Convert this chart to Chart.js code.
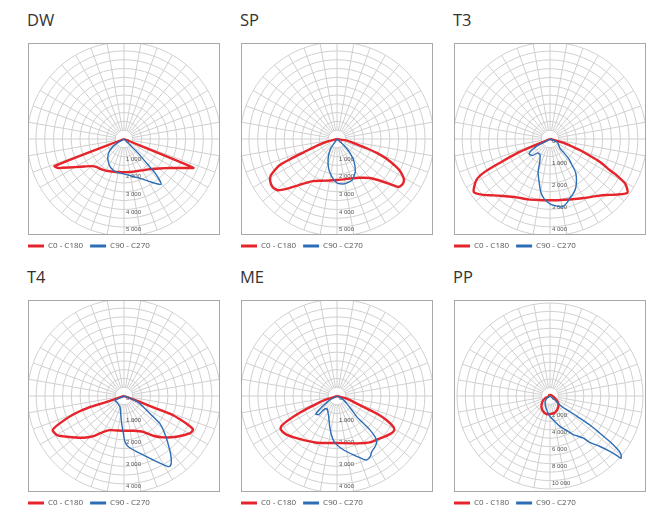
<!DOCTYPE html>
<html><head><meta charset="utf-8">
<script src="https://cdn.jsdelivr.net/npm/chart.js@4.4.0/dist/chart.umd.min.js"></script>
<style>
html,body{margin:0;padding:0;background:#fff;}
body{width:670px;height:523px;position:relative;overflow:hidden;font-family:'Open Sans',sans-serif;}
.title{position:absolute;font-size:16.5px;line-height:1;color:#333;white-space:nowrap;}
canvas{position:absolute;}
</style></head><body>
<script>
// ---- data: gamma angle (deg, 0 = nadir, + = right side) and intensity (cd) ----
const DW_RED_ANG = [-68.7,-66,-65,-60,-55,-50,-45,-40,-35,-30,-25,-20,-15,-10,-5,0,5,10,15,20,25,30,35,40,45,50,55,60,65,67.5];
const DW_RED_CD  = [4233,4069,3867,3193,2717,2396,2231,2183,2130,2070,2010,1968,1934,1899,1885,1878,1885,1897,1925,1949,1990,2060,2132,2245,2390,2600,2882,3286,3888,4264];
const DW_BLUE_ANG = [-58.7,-53,-45.6,-35.6,-24.7,-13,0,11.1,23.4,32.2,39.3,42.2,43,45,45];
const DW_BLUE_CD  = [507,939,1262,1548,1799,1927,1980,2143,2456,2887,3324,2712,1980,1115,450];

const SP_RED_ANG = [-75,-71.6,-68.2,-66.8,-65.4,-61.2,-57.6,-53.4,-49.3,-45,-40,-30,-20,-10,0,10,20,30,40,45,50,51.9,55,57.6,59.3,62.6,64.7,68.2,70.7,72.7,75,80.5];
const SP_RED_CD  = [580,1190,2020,2860,3610,4290,4490,4560,4460,3980,3430,2760,2520,2390,2330,2330,2380,2540,2890,3290,4020,4410,4520,4490,4410,4066,3740,3030,2390,1770,1170,570];
const SP_BLUE_ANG = [-33.7,-33.7,-24.2,-15.5,-7.4,0,6.3,10.5,19.8,28.8,36.6,43.5,48];
const SP_BLUE_CD  = [340,680,1235,1755,2180,2500,2570,2575,2495,2145,1635,1035,505];

const T3_RED_ANG = [-67.4,-66.8,-64.7,-63.2,-60.7,-55.2,-50,-45,-40,-30,-20,-10,0,10,20,30,40,45,50,55.3,59.3,61.4,62.4,65.3,68.6,69.9,74];
const T3_RED_CD  = [784,1608,2469,3346,3855,4225,3961,3626,3386,3066,2922,2818,2790,2818,2922,3100,3383,3605,3937,4292,3983,3469,3096,2524,1653,1317,659];
const T3_BLUE_ANG = [-61,-62.2,-58,-54.5,-46.7,-42.1,-32,-23.9,-19.8,-14.2,-9.9,-5.7,0,5,10,15,18.6,21.5,27.2,32.6,37.6,40,43.5,45,47,65.6];
const T3_BLUE_CD  = [310,648,996,1168,1099,854,854,1155,1603,2022,2450,2730,2950,3057,3140,2997,2834,2756,2543,2238,1904,1574,1249,896,618,366];

const T4_RED_ANG = [-70.9,-72.1,-70.1,-67.1,-65.2,-64,-59.7,-54.4,-44.1,-37.2,-29.9,-22.2,-12,0,14.9,28.2,36.3,43.4,52.1,60.3,63.7,64.6,66.2,68.6,68.8,69.4];
const T4_RED_CD  = [830,1617,2438,3143,3523,3609,3528,3190,2645,2293,1878,1677,1603,1584,1639,1849,2244,2593,3020,3439,3501,3440,3100,2398,1585,773];
const T4_BLUE_ANG = [-64.3,-43.6,-20,-10.7,-4.8,-1,1.2,4.9,12.7,20.4,26.3,32,33.6,36.5,40.3,47.4,52.5,54.4,57.7,64.4,68.6];
const T4_BLUE_CD  = [452,437,530,813,1256,1704,2083,2316,2597,2944,3332,3787,3818,3622,3221,2519,2054,1632,1214,803,454];

const ME_RED_ANG = [-72,-67.6,-65.4,-63.4,-61.6,-59.3,-53.4,-46.1,-36.9,-23,-4,0,22.8,35.5,45.4,54.3,59.2,61.3,64,66.2,67.1,69,75];
const ME_RED_CD  = [634,1305,1991,2530,2882,2982,2911,2720,2510,2311,2147,2142,2339,2595,2752,2972,3037,2923,2516,1978,1474,969,468];
const ME_BLUE_ANG = [-61.2,-55,-52,-49.3,-44.5,-44.3,-38.3,-21.6,-13.3,-7,-2,7,15.7,22.7,25,28.7,32,36.9,41,43,44.2,44,43.6,46.3,52.5,62];
const ME_BLUE_CD  = [344,736,1053,1273,1184,864,730,1022,1442,1870,2158,2477,2789,3123,3212,3145,2988,2887,2758,2540,2165,1739,1312,939,570,256];

const PP_RED_ANG = [-150,-68,-65,-53.5,-39,-26,-12.5,0,16.7,33,48.7,61,79,150];
const PP_RED_CD  = [150,210,646,1117,1610,1956,2160,2148,2039,1722,1301,804,398,150];
const PP_BLUE_ANG = [-55,-34.3,-13.4,0,11,18,25.7,30.9,33.7,38.2,40.6,44.6,47.1,48.4,48.7,50.5,51.7,52.7,53.3,54,53.3,52,47.6,51.3];
const PP_BLUE_CD  = [477,1040,1686,2422,3064,3780,4508,5326,5633,6314,7203,8342,9590,10710,11180,10880,10210,8835,7312,5789,4383,2977,1852,750];

// tick labels and ring steps
const TICKS_5000 = [0,1000,2000,3000,4000,5000];
const TICKS_4000 = [0,1000,2000,3000,4000];
const TICKS_10000 = [0,2000,4000,6000,8000,10000];
const TITLES = ['DW','SP','T3','T4','ME','PP'];
const SERIES_NAMES = ['C0 - C180','C90 - C270'];

// ---- layout / style ----
const RED = '#e5252b', BLUE = '#2c6db5';
const BOX = 192, PADL = 7;
const COLS = [28, 241, 454], ROWS = [43, 300];

function fmt(v){ return String(v).replace(/\B(?=(\d{3})+(?!\d))/g,' '); }
function toXY(ang, cd){
  const pts = [{x:0,y:0}];
  for (let i=0;i<ang.length;i++){
    const t = ang[i]*Math.PI/180;
    pts.push({x: cd[i]*Math.sin(t), y: -cd[i]*Math.cos(t)});
  }
  pts.push({x:0,y:0});
  return pts;
}

const polarGrid = {
  id:'polarGrid',
  beforeDatasetsDraw(chart, args, opts){
    const {ctx, chartArea:a, scales:{x,y}} = chart;
    const cx = x.getPixelForValue(0), cy = y.getPixelForValue(0);
    ctx.save();
    ctx.beginPath(); ctx.rect(a.left, a.top, a.right-a.left, a.bottom-a.top); ctx.clip();
    ctx.strokeStyle = '#d0d0d0'; ctx.lineWidth = 1;
    const n = 11;
    for (let i=1;i<=n;i++){
      const r = x.getPixelForValue(opts.step*i) - cx;
      ctx.beginPath(); ctx.arc(cx, cy, r, 0, Math.PI*2); ctx.stroke();
    }
    const r1 = x.getPixelForValue(opts.step) - cx, rn = x.getPixelForValue(opts.step*n) - cx;
    for (let d=0; d<360; d+=10){
      const t = d*Math.PI/180;
      ctx.beginPath();
      ctx.moveTo(cx + r1*Math.sin(t), cy + r1*Math.cos(t));
      ctx.lineTo(cx + rn*Math.sin(t), cy + rn*Math.cos(t));
      ctx.stroke();
    }
    ctx.fillStyle = '#555';
    ctx.font = '6px "Liberation Sans", Arial, sans-serif';
    ctx.textAlign = 'left'; ctx.textBaseline = 'middle';
    for (const v of opts.ticks){
      ctx.fillText(fmt(v), cx + 2, y.getPixelForValue(-v) + 2.5);
    }
    ctx.restore();
  },
  afterDraw(chart){
    const {ctx, chartArea:a} = chart;
    ctx.save();
    ctx.strokeStyle = '#a8a8a8'; ctx.lineWidth = 1;
    ctx.strokeRect(a.left+0.5, a.top+0.5, a.right-a.left-1, a.bottom-a.top-1);
    ctx.restore();
  }
};

const PANELS = [
  {title:TITLES[0], red:[DW_RED_ANG,DW_RED_CD], blue:[DW_BLUE_ANG,DW_BLUE_CD], max:5450, step:500, ticks:TICKS_5000},
  {title:TITLES[1], red:[SP_RED_ANG,SP_RED_CD], blue:[SP_BLUE_ANG,SP_BLUE_CD], max:5450, step:500, ticks:TICKS_5000},
  {title:TITLES[2], red:[T3_RED_ANG,T3_RED_CD], blue:[T3_BLUE_ANG,T3_BLUE_CD], max:4370, step:400, ticks:TICKS_4000},
  {title:TITLES[3], red:[T4_RED_ANG,T4_RED_CD], blue:[T4_BLUE_ANG,T4_BLUE_CD], max:4370, step:400, ticks:TICKS_4000},
  {title:TITLES[4], red:[ME_RED_ANG,ME_RED_CD], blue:[ME_BLUE_ANG,ME_BLUE_CD], max:4370, step:400, ticks:TICKS_4000},
  {title:TITLES[5], red:[PP_RED_ANG,PP_RED_CD], blue:[PP_BLUE_ANG,PP_BLUE_CD], max:11350, step:1000, ticks:TICKS_10000}
];

PANELS.forEach((p, i) => {
  const left = COLS[i%3], top = ROWS[Math.floor(i/3)];
  const t = document.createElement('div');
  t.className = 'title'; t.textContent = p.title;
  t.style.left = (left-1) + 'px'; t.style.top = (top - 31) + 'px';
  document.body.appendChild(t);
  const c = document.createElement('canvas');
  const W = BOX + PADL, H = BOX + 25;
  c.width = W; c.height = H;
  c.style.left = (left - PADL) + 'px'; c.style.top = top + 'px';
  c.style.width = W + 'px'; c.style.height = H + 'px';
  document.body.appendChild(c);
  new Chart(c, {
    type:'scatter',
    data:{ datasets:[
      {label:SERIES_NAMES[0], data:toXY(p.red[0], p.red[1]), showLine:true, borderColor:RED, backgroundColor:RED, borderWidth:2.4, pointRadius:0, tension:0.2, order:1},
      {label:SERIES_NAMES[1], data:toXY(p.blue[0], p.blue[1]), showLine:true, borderColor:BLUE, backgroundColor:BLUE, borderWidth:1.4, pointRadius:0, tension:0.2, order:0}
    ]},
    options:{
      responsive:false, animation:false, events:[],
      layout:{padding:0},
      scales:{
        x:{type:'linear', min:-p.max, max:p.max, display:false},
        y:{type:'linear', min:-p.max, max:p.max, display:true,
           ticks:{display:false}, grid:{display:false, drawTicks:false}, border:{display:false},
           afterFit(s){ s.width = PADL; }}
      },
      plugins:{
        polarGrid:{step:p.step, ticks:p.ticks},
        tooltip:{enabled:false},
        legend:{display:true, position:'bottom', align:'start',
          labels:{boxWidth:16, boxHeight:3, padding:7, color:'#555',
            font:{size:8, family:"'Open Sans', sans-serif"},
            generateLabels(chart){
              return chart.data.datasets.map((ds, k) => ({text:ds.label, fillStyle:ds.borderColor, strokeStyle:ds.borderColor, lineWidth:0, hidden:false, datasetIndex:k, fontColor:'#555'}));
            }}}
      }
    },
    plugins:[polarGrid]
  });
});
</script>
</body></html>
